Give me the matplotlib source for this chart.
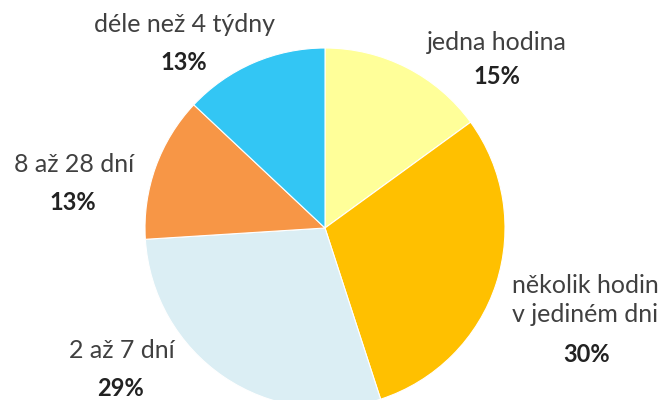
import matplotlib
matplotlib.use('Agg')
import matplotlib.pyplot as plt

labels = ['jedna hodina', 'několik hodin\nv jediném dni', '2 až 7 dní',
          '8 až 28 dní', 'déle než 4 týdny']
shares = [15, 30, 29, 13, 13]
colors = ['#FFFF99', '#FFC000', '#DBEEF4', '#F79646', '#33C6F4']

# label / percentage anchor points in pixel space (x, y from top)
label_pos = [(497, 42), (585, 300), (122, 350), (74, 165), (184, 25)]
pct_pos = [(497, 76), (587, 354), (120, 388), (73, 202), (184, 62)]

plt.rcParams['font.family'] = ['Lato', 'DejaVu Sans']

fig = plt.figure(figsize=(6.72, 4.0), dpi=100)
ax = fig.add_axes([0, 0, 1, 1])

ax.pie(shares, colors=colors, startangle=90, counterclock=False,
       center=(325, 172), radius=180,
       wedgeprops=dict(edgecolor='white', linewidth=0.8))

# pie() resets the limits, so fix them afterwards
ax.set_xlim(0, 672)
ax.set_ylim(0, 400)
ax.set_aspect('equal')
ax.axis('off')

for lab, val, (x, y), (px, py) in zip(labels, shares, label_pos, pct_pos):
    ax.text(x, 400 - y, lab, ha='center', va='center',
            fontsize=18, color='#404040', linespacing=1.3)
    ax.text(px, 400 - py, '{}%'.format(val), ha='center', va='center',
            fontsize=17, fontweight='bold', color='#222222')

fig.savefig('out.png', dpi=100)
